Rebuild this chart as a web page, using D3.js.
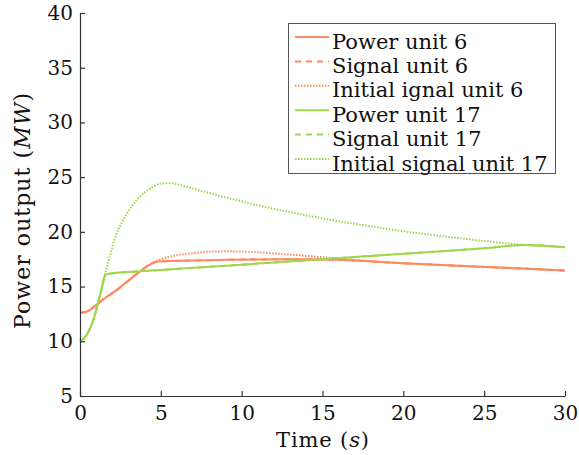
<!DOCTYPE html>
<html>
<head>
<meta charset="utf-8">
<script src="https://cdn.jsdelivr.net/npm/d3@7"></script>
</head>
<body style="margin:0;padding:0;background:#fff">
<svg id="chart" width="579" height="455"></svg>
<script>
// ---- data ----
const xTicks = [0, 5, 10, 15, 20, 25, 30];
const yTicks = [5, 10, 15, 20, 25, 30, 35, 40];

const tPower6 = [0, 0.3, 0.6, 0.9, 1.2, 1.5, 2, 2.5, 3, 3.5, 4, 4.5, 4.8, 5.5, 7, 9, 11, 13, 15, 17, 20, 23, 27, 30];
const power6  = [12.6, 12.65, 12.85, 13.2, 13.55, 13.9, 14.4, 14.95, 15.55, 16.15, 16.7, 17.15, 17.3, 17.33, 17.38, 17.44, 17.48, 17.5, 17.48, 17.38, 17.13, 16.93, 16.67, 16.46];
const signal6 = [12.6, 12.65, 12.85, 13.2, 13.55, 13.9, 14.4, 14.95, 15.55, 16.15, 16.7, 17.15, 17.3, 17.33, 17.38, 17.44, 17.48, 17.5, 17.48, 17.38, 17.13, 16.93, 16.67, 16.46];

const tInit6 = [0, 0.3, 0.6, 0.9, 1.2, 1.5, 2, 2.5, 3, 3.5, 4, 4.5, 5, 5.5, 6, 7, 8, 9, 10, 11, 12, 13, 14, 15, 16, 17, 18, 19, 20, 23, 27, 30];
const init6  = [12.6, 12.65, 12.85, 13.2, 13.55, 13.9, 14.4, 14.95, 15.55, 16.15, 16.7, 17.2, 17.5, 17.7, 17.87, 18.05, 18.18, 18.22, 18.2, 18.13, 18.03, 17.92, 17.8, 17.68, 17.56, 17.43, 17.32, 17.22, 17.13, 16.93, 16.67, 16.46];

const tPower17 = [0, 0.3, 0.6, 0.9, 1.2, 1.4, 1.55, 1.7, 2, 3, 5, 10, 15, 20, 25, 27.5, 30];
const power17  = [10, 10.35, 11.1, 12.3, 14.0, 15.2, 16.0, 16.15, 16.22, 16.33, 16.52, 17.0, 17.5, 18.0, 18.5, 18.8, 18.6];
const signal17 = [10, 10.35, 11.1, 12.3, 14.0, 15.2, 16.0, 16.15, 16.22, 16.33, 16.52, 17.0, 17.5, 18.0, 18.5, 18.8, 18.6];

const tInit17 = [0, 0.3, 0.6, 0.9, 1.2, 1.5, 1.8, 2.2, 2.6, 3, 3.5, 4, 4.5, 5, 5.5, 6, 7, 8, 9, 10, 11, 12, 13, 14, 16, 18, 20, 22, 24, 26, 27.5, 30];
const init17  = [10, 10.35, 11.1, 12.3, 14.0, 15.9, 17.5, 19.6, 20.9, 21.9, 22.9, 23.6, 24.1, 24.4, 24.45, 24.35, 23.95, 23.55, 23.15, 22.78, 22.43, 22.1, 21.8, 21.5, 20.97, 20.5, 20.05, 19.68, 19.33, 19.01, 18.8, 18.6];

const seriesNames = ["Power unit 6", "Signal unit 6", "Initial ignal unit 6",
                     "Power unit 17", "Signal unit 17", "Initial signal unit 17"];

// ---- styles ----
const orange = "#FC8A5E";
const green = "#9ED64C";
const FONT = "'DejaVu Serif', 'Liberation Serif', serif";
const FS = 21;
const series = [
  { name: seriesNames[0], t: tPower6,  v: power6,   color: orange, dash: null },
  { name: seriesNames[1], t: tPower6,  v: signal6,  color: orange, dash: "6,5" },
  { name: seriesNames[2], t: tInit6,   v: init6,    color: orange, dash: "1.5,1.5" },
  { name: seriesNames[3], t: tPower17, v: power17,  color: green,  dash: null },
  { name: seriesNames[4], t: tPower17, v: signal17, color: green,  dash: "6,5" },
  { name: seriesNames[5], t: tInit17,  v: init17,   color: green,  dash: "1.5,1.5" }
];

const svg = d3.select("#chart");
const mLeft = 80, mRight = 565, mTop = 13, mBottom = 396;

const x = d3.scaleLinear().domain([0, 30]).range([mLeft, mRight]);
const y = d3.scaleLinear().domain([5, 40]).range([mBottom, mTop]);

const line = d3.line().x(d => x(d[0])).y(d => y(d[1])).curve(d3.curveMonotoneX);

const drawOrder = [2, 1, 0, 5, 4, 3];
drawOrder.forEach(i => {
  const s = series[i];
  svg.append("path")
    .datum(s.t.map((t, k) => [t, s.v[k]]))
    .attr("d", line)
    .attr("fill", "none")
    .attr("stroke", s.color)
    .attr("stroke-width", 2)
    .attr("stroke-dasharray", s.dash);
});

// axes
const xAxis = d3.axisBottom(x).tickValues(xTicks).tickSize(-5).tickPadding(10).tickSizeOuter(0);
const yAxis = d3.axisLeft(y).tickValues(yTicks).tickSize(-5).tickPadding(7).tickSizeOuter(0);

const gx = svg.append("g").attr("transform", `translate(0,${mBottom})`).call(xAxis);
const gy = svg.append("g").attr("transform", `translate(${mLeft},0)`).call(yAxis);
[gx, gy].forEach(g => {
  g.attr("font-family", null);
  g.select(".domain").attr("stroke", "#333").attr("stroke-width", 1.2);
  g.selectAll(".tick line").attr("stroke", "#333").attr("stroke-width", 1.2);
  g.selectAll(".tick text").style("font-family", FONT).style("font-size", "20px").attr("fill", "#111");
});

// axis titles
const xt = svg.append("text")
  .attr("x", (mLeft + mRight) / 2).attr("y", 447)
  .attr("text-anchor", "middle").attr("fill", "#111")
  .attr("textLength", 93).attr("lengthAdjust", "spacing")
  .style("font-family", FONT).style("font-size", FS + "px");
xt.append("tspan").text("Time (");
xt.append("tspan").style("font-style", "italic").text("s");
xt.append("tspan").text(")");

const yt = svg.append("text")
  .attr("transform", `translate(30,211) rotate(-90)`)
  .attr("text-anchor", "middle").attr("fill", "#111")
  .attr("textLength", 236).attr("lengthAdjust", "spacing")
  .style("font-family", FONT).style("font-size", "22px");
yt.append("tspan").text("Power output (");
yt.append("tspan").style("font-style", "italic").text("MW");
yt.append("tspan").text(")");

// legend
const lg = svg.append("g");
lg.append("rect").attr("x", 288.5).attr("y", 23.5).attr("width", 267).attr("height", 150)
  .attr("fill", "#fff").attr("stroke", "#555").attr("stroke-width", 1);
const rowY = d3.scaleLinear().domain([0, 5]).range([37, 159]);
series.forEach((s, i) => {
  const yy = rowY(i);
  lg.append("line").attr("x1", 295).attr("x2", 329).attr("y1", yy).attr("y2", yy)
    .attr("stroke", s.color).attr("stroke-width", 2).attr("stroke-dasharray", s.dash);
  lg.append("text").attr("x", 332).attr("y", yy + 11.5).attr("fill", "#111")
    .style("font-family", FONT).style("font-size", FS + "px").text(s.name);
});
</script>
</body>
</html>
